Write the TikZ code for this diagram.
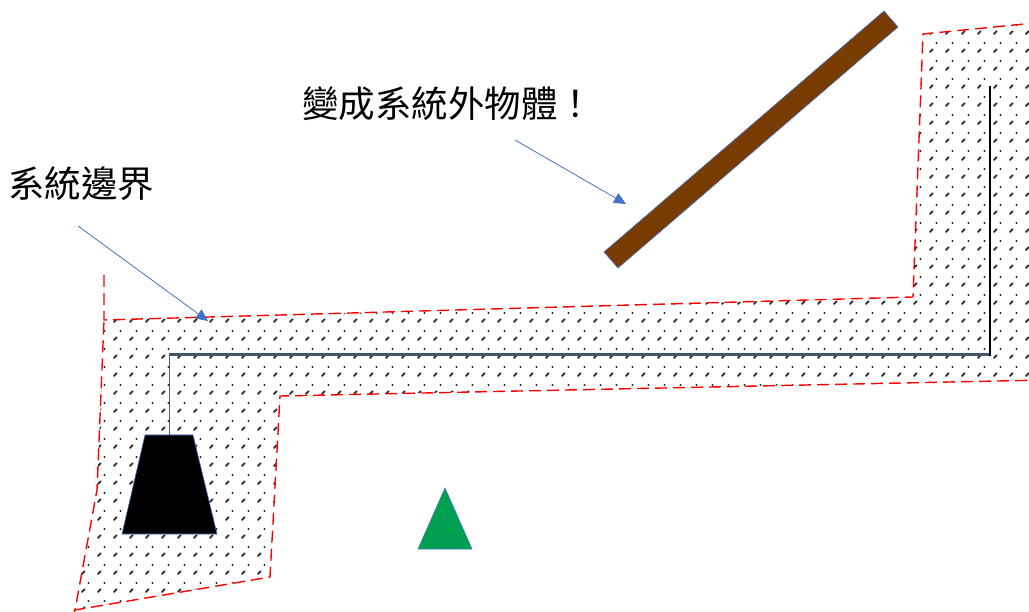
\documentclass[tikz,border=0pt]{standalone}
\usepackage{fontspec}
\newfontfamily\cjk{Noto Sans CJK TC}
\usetikzlibrary{patterns.meta,arrows.meta}
\definecolor{bnd}{RGB}{255,0,0}
\definecolor{arr}{RGB}{68,114,196}
\definecolor{stick}{RGB}{120,60,0}
\definecolor{rope}{RGB}{68,84,106}
\definecolor{tri}{RGB}{0,160,80}
\definecolor{dotc}{RGB}{40,40,40}
\tikzdeclarepattern{
  name=sysdots,
  type=colored,
  bottom left={(0pt,0pt)}, top right={(16pt,18pt)},
  tile size={(16pt,18pt)},
  code={
    \draw[line width=1.9pt, dotc, line cap=round] (2pt,2pt) -- (5pt,5pt);
    \fill[dotc] (9pt,11.5pt) circle (1.2pt);
  }
}
\tikzset{
  boundary/.style={draw=bnd, line width=1.4pt, dash pattern=on 12pt off 6pt},
  pointer/.style={draw=arr, line width=0.8pt, -{Triangle[length=12pt,width=11pt]}},
  label/.style={font=\cjk\fontsize{36.5}{42}\selectfont, anchor=west, inner sep=0pt},
  outlined/.style={draw=arr, line width=0.6pt},
}
\begin{document}
\begin{tikzpicture}[x=1pt,y=-1pt]
\useasboundingbox (0,0) rectangle (1029,612);
\clip (0,0) rectangle (1029,612);
% system boundary region
\fill[pattern=sysdots] (104,320) -- (913,297) -- (923,34) -- (1045,22) -- (1045,380) -- (280,396) -- (270,577) -- (75,610) -- (97,490) -- cycle;
\draw[boundary] (104,275) -- (104,320) -- (913,297) -- (923,34) -- (1045,22);
\draw[boundary] (1045,380) -- (280,396) -- (270,577) -- (75,610) -- (97,490) -- (104,320);
\draw[boundary] (75,610) -- (68,625);
% rope
\coordinate (ropeL) at (169,355);
\coordinate (ropeR) at (990,355);
\coordinate (ropeTop) at (990,86);
\node[inner sep=0pt, minimum size=0pt] (weighttop) at (169,435) {};
\draw[rope, line width=3pt] (ropeL) -- (ropeR);
\draw[black, line width=2pt] (ropeR.center) ++(0,1.5) -- (ropeTop);
\draw[rope!60!arr, line width=1pt] (ropeL) -- (weighttop);
% weight
\draw[outlined, fill=black] (145,435) -- (193,435) -- (217,534) -- (122,534) -- cycle;
% stick
\draw[outlined, fill=stick] (884,11) -- (898,27) -- (618,268) -- (604,252) -- cycle;
% triangle
\draw[outlined, fill=tri] (445,488) -- (472,549) -- (418,549) -- cycle;
% labels
\node[label] (lbl1) at (8,184) {系統邊界};
\node[label] (lbl2) at (302,104) {變成系統外物體！};
\coordinate (a1s) at (78,226);
\coordinate (a1e) at (208,321);
\coordinate (a2s) at (515,140);
\coordinate (a2e) at (626,204);
\draw[pointer] (a1s) -- (a1e);
\draw[pointer] (a2s) -- (a2e);
\end{tikzpicture}
\end{document}
